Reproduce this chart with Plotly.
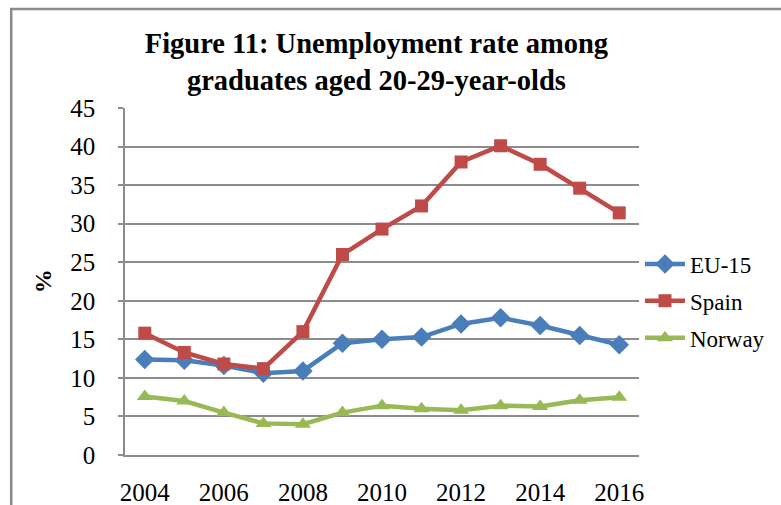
import plotly.graph_objects as go

# Unemployment rate among graduates aged 20-29, by year
years = list(range(2004, 2017))
eu15 = [12.4, 12.3, 11.6, 10.6, 10.9, 14.5, 15.0, 15.3, 17.0, 17.8, 16.8, 15.5, 14.3]
spain = [15.8, 13.3, 11.8, 11.2, 16.0, 26.0, 29.3, 32.3, 38.0, 40.1, 37.7, 34.6, 31.4]
norway = [7.6, 7.0, 5.5, 4.1, 4.0, 5.5, 6.4, 6.0, 5.8, 6.4, 6.3, 7.1, 7.5]

x_ticks = [2004, 2006, 2008, 2010, 2012, 2014, 2016]
y_ticks = list(range(0, 50, 5))

FONT = "Liberation Serif, Times New Roman, serif"
GRID = "#8c8c8c"

series = [
    ("EU-15", eu15, "#4a7ebb", "diamond", 15),
    ("Spain", spain, "#be4b48", "square", 13),
    ("Norway", norway, "#98b954", "triangle-up", 14),
]

fig = go.Figure()
for name, vals, color, symbol, size in series:
    fig.add_trace(go.Scatter(
        x=years, y=vals, name=name, mode="lines+markers",
        legendgroup=name,
        line=dict(color=color, width=4.5),
        marker=dict(symbol=symbol, size=size, color=color,
                    line=dict(width=0)),
    ))

fig.update_layout(
    width=781, height=505,
    margin=dict(l=125, r=141, t=108, b=50),
    paper_bgcolor="white", plot_bgcolor="white",
    font=dict(family=FONT, color="black", size=25),
    title=dict(
        text="<b>Figure 11: Unemployment rate among<br>graduates aged 20-29-year-olds</b>",
        x=382 / 781, xanchor="center", xref="paper",
        y=1 - 53 / 505, yanchor="middle", yref="container",
        font=dict(family=FONT, size=28.5, color="black"),
    ),
    showlegend=True,
    legend=dict(
        x=1.0, xanchor="left", y=(455 - 301) / 347, yanchor="middle",
        font=dict(family=FONT, size=23, color="black"),
        traceorder="grouped", tracegroupgap=4,
        itemwidth=40, bgcolor="rgba(0,0,0,0)",
    ),
    xaxis=dict(
        range=[2003.5, 2016.5], tickvals=x_ticks,
        showgrid=False, zeroline=False, automargin=False,
        showline=True, linecolor=GRID, linewidth=1.5,
        ticks="", ticklabelstandoff=14,
        tickfont=dict(family=FONT, size=25),
    ),
    yaxis=dict(
        range=[0, 45], tickvals=y_ticks,
        showgrid=True, gridcolor=GRID, gridwidth=1.5,
        zeroline=False, automargin=False,
        showline=True, linecolor=GRID, linewidth=1.5,
        ticks="outside", ticklen=5, tickcolor=GRID, tickwidth=1.5,
        ticklabelstandoff=18,
        tickfont=dict(family=FONT, size=25),
    ),
    shapes=[
        # outer frame of the chart area
        dict(type="rect", xref="paper", yref="paper",
             x0=(11 - 125) / 515, x1=(800 - 125) / 515,
             y0=-(520 - 455) / 347, y1=(455 - 9) / 347,
             line=dict(color="#8a8a8a", width=2.5), layer="below"),
    ],
    annotations=[
        dict(text="<b>%</b>", textangle=-90, xref="paper", yref="paper",
             x=(43 - 125) / 515, y=(455 - 281) / 347,
             xanchor="center", yanchor="middle", showarrow=False,
             font=dict(family=FONT, size=24, color="black")),
    ],
)

fig.write_html("out.html")
